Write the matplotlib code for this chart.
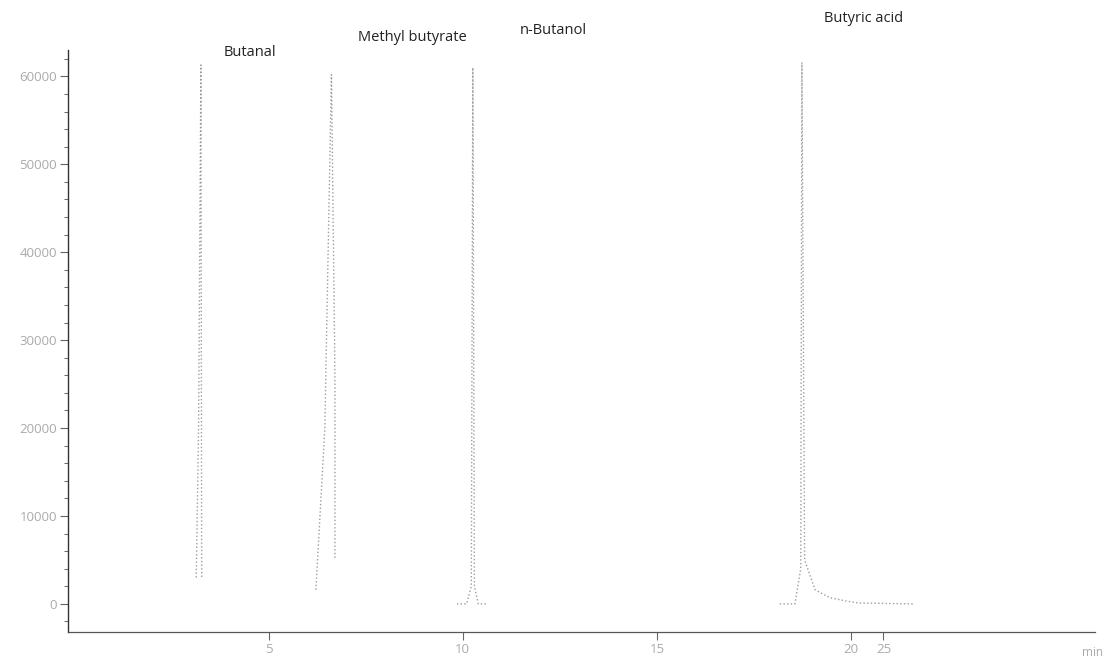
import numpy as np
import matplotlib
matplotlib.use("Agg")
import matplotlib.pyplot as plt

plt.rcParams['font.family'] = ['Open Sans', 'DejaVu Sans']

# ---- data (time in min, signal in counts) ----
butanal_t = [3.14, 3.20, 3.26, 3.28]
butanal_y = [3000, 20000, 61300, 3000]

methyl_t = [6.22, 6.45, 6.62, 6.70, 6.71, 6.71]
methyl_y = [1600, 20000, 60200, 30000, 25000, 5000]

butanol_t = [9.85, 10.10, 10.22, 10.26, 10.30, 10.40, 10.62]
butanol_y = [0, 0, 2000, 61000, 2000, 0, 0]

acid_t = [18.16, 18.55, 18.70, 18.73, 18.80, 19.07, 19.45, 19.84, 21.1, 29.6]
acid_y = [0, 0, 4000, 61600, 5000, 1600, 700, 350, 100, 0]

peak_names = ["Butanal", "Methyl butyrate", "n-Butanol", "Butyric acid"]
label_t = [4.53, 8.70, 12.33, 21.9]
label_y = [62700, 64400, 65200, 66600]

y_ticks = [0, 10000, 20000, 30000, 40000, 50000, 60000]
x_ticks = [5, 10, 15, 20, 25]


# axis is compressed beyond 20 min on the original print
def fwd(x):
    x = np.asarray(x, dtype=float)
    return np.where(x <= 20, x, 20 + (x - 20) * 0.166)


def inv(x):
    x = np.asarray(x, dtype=float)
    return np.where(x <= 20, x, 20 + (x - 20) / 0.166)


fig = plt.figure(figsize=(11.10, 6.58), dpi=100)
ax = fig.add_axes([0.0613, 0.0395, 0.9252, 0.8845])
ax.set_xscale('function', functions=(fwd, inv))

line_kw = dict(color='#9c9c9c', linestyle=':', linewidth=1.0)
for t, y in [(butanal_t, butanal_y), (methyl_t, methyl_y),
             (butanol_t, butanol_y), (acid_t, acid_y)]:
    ax.plot(t, y, **line_kw)

for name, t, y in zip(peak_names, label_t, label_y):
    ax.text(t, y, name, ha='center', va='center', fontsize=10.5,
            color='#222222', clip_on=False)

ax.set_xlim(-0.16, 57.8)
ax.set_ylim(-3200, 63000)

ax.set_yticks(y_ticks)
ax.set_yticklabels([str(v) for v in y_ticks])
ax.set_yticks(np.arange(-2000, 63000, 2000), minor=True)
ax.set_xticks(x_ticks)
ax.set_xticklabels([str(v) for v in x_ticks])

ax.tick_params(axis='both', which='major', colors='#666666', labelcolor='#aaaaaa',
               labelsize=9.5, length=6, width=0.8, pad=2)
ax.tick_params(axis='y', which='minor', colors='#666666', length=3, width=0.7)
ax.tick_params(axis='x', which='minor', bottom=False)

for s in ['top', 'right']:
    ax.spines[s].set_visible(False)
ax.spines['left'].set_color('#333333')
ax.spines['bottom'].set_color('#555555')
ax.spines['left'].set_linewidth(1.0)
ax.spines['bottom'].set_linewidth(0.9)

fig.text(1093 / 1110, 1 - 652 / 658, 'min', ha='center', va='center',
         fontsize=8.5, color='#aaaaaa')

fig.savefig('out.png', dpi=100)
